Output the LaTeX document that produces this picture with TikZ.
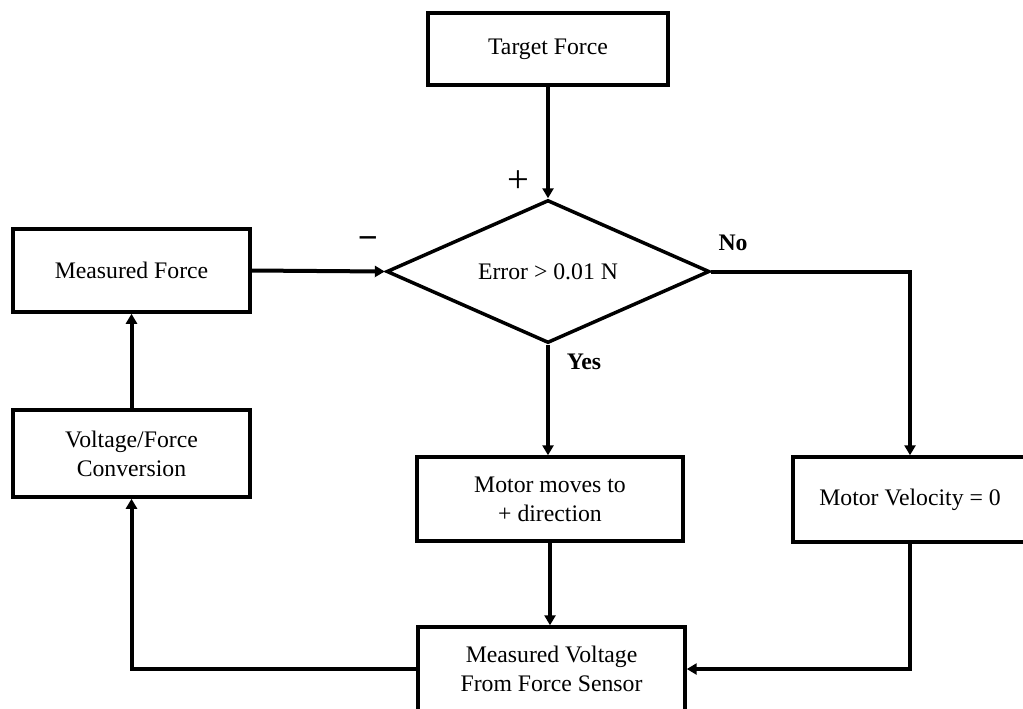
\documentclass[tikz,border=0pt]{standalone}
\usepackage{fontspec}
\setmainfont{Liberation Serif}
\usetikzlibrary{shapes.geometric,arrows.meta}

\tikzset{
	block/.style={draw, line width=0.07cm, align=center, inner sep=2pt,
		font=\fontsize{13.5}{16.5}\selectfont},
	decision/.style={diamond, draw, line width=0.07cm, aspect=2.26, inner sep=0pt,
		minimum width=6.46cm, minimum height=2.86cm,
		font=\fontsize{13.5}{16.5}\selectfont},
	line/.style={line width=0.08cm, -{Triangle[width=0.22cm,length=0.2cm]}},
	sign/.style={font=\fontsize{22}{24}\selectfont},
	answer/.style={font=\fontsize{13.5}{16.5}\selectfont\bfseries}
}

\begin{document}
\begin{tikzpicture}[x=0.02cm, y=-0.02cm]
			%%%%% START %%%%%
			
			\clip (0, 0) rectangle (1023, 708);
			\useasboundingbox (0, 0) rectangle (1023, 708);
			
			\node[block, minimum width=4.8cm, minimum height=1.44cm] (target) at (548, 49) {Target Force};
			\node[decision] (err) at (548, 271.5) {Error > 0.01 N};
			
			\node[block, minimum width=4.74cm, minimum height=1.66cm] (mforce) at (131.5, 270.5) {Measured Force};
			\node[block, minimum width=4.74cm, minimum height=1.74cm] (conv) at (131.5, 453.5) {Voltage/Force\\Conversion};
			
			\node[block, minimum width=5.32cm, minimum height=1.68cm] (mmove) at (550, 499) {Motor moves to\\+ direction};
			\node[block, minimum width=4.68cm, minimum height=1.7cm] (mvel) at (910, 499.5) {Motor Velocity = 0};
			\node[block, minimum width=5.34cm, minimum height=1.68cm] (mvolt) at (551.5, 669) {Measured Voltage\\From Force Sensor};
			
			% signs and answers
			\node[sign] (plus) at (518, 182) {+};
			\node[sign, font=\fontsize{20}{24}\selectfont\bfseries] (minus) at (368, 243) {−};
			\node[answer] (no) at (733, 243) {No};
			\node[answer] (yes) at (584, 362) {Yes};
			
			% connectors
			\draw[line] (target) -- (err);
			\draw[line] (mforce.east) -- (err.west);
			\draw[line] (err.east) -| (mvel.north);
			\draw[line] (err.south) -- (err.south |- mmove.north);
			\draw[line] (mmove.south) -- (mmove.south |- mvolt.north);
			\draw[line] (mvel.south) |- (mvolt.east);
			\draw[line] (mvolt.west) -| (conv.south);
			\draw[line] (conv) -- (mforce);
			
			%%%%% END %%%%%
\end{tikzpicture}
\end{document}
